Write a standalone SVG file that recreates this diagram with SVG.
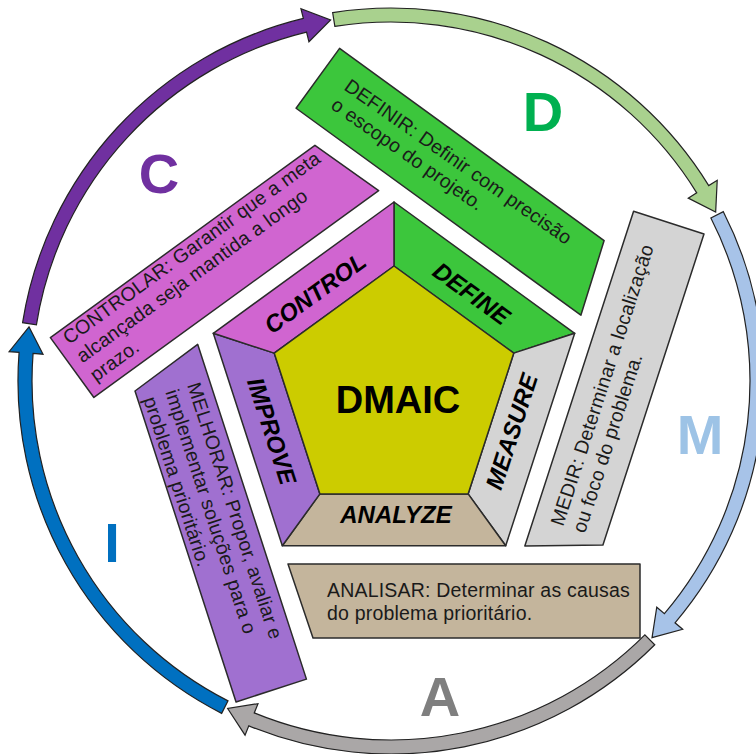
<svg xmlns="http://www.w3.org/2000/svg" xmlns:xlink="http://www.w3.org/1999/xlink" width="756" height="754" viewBox="0 0 756 754">
  <style>
    .seg { stroke:#2b2b2b; stroke-width:1.5; stroke-linejoin:round; }
    .box { stroke:#2b2b2b; stroke-width:1.5; stroke-linejoin:round; }
    .arc { stroke:#222; stroke-width:1.2; stroke-linejoin:miter; }
    .bt { font-family:"Liberation Sans", Arial, sans-serif; font-size:19.5px; fill:#1a1a1a; letter-spacing:0.2px; }
    .lbl { font-family:"Liberation Sans", Arial, sans-serif; font-weight:bold; font-style:italic; font-size:24px; fill:#000; text-anchor:middle; dominant-baseline:central; }
    .big { font-family:"Liberation Sans", Arial, sans-serif; font-weight:bold; font-size:56px; text-anchor:middle; }
    .center { font-family:"Liberation Sans", Arial, sans-serif; font-weight:bold; font-size:38px; text-anchor:middle; fill:#000; }
  </style>
  <defs>
    <path id="arrow" d="M 0,-373 A 373 373 0 0 1 344.4,-143.3 L 353.6,-147.2 L 347.1,-116.1 L 322.2,-134.1 L 331.4,-138 A 359 359 0 0 0 0,-359 Z"/>
    <polygon id="boxshape" points="-106,172 246,172 246,246 -81,246"/>
  </defs>
  <rect width="756" height="754" fill="#ffffff"/>

  <g id="connectors">
    <use xlink:href="#arrow" href="#arrow" class="arc" fill="#a9d18e" transform="translate(391,381) rotate(-9)"/>
    <use xlink:href="#arrow" href="#arrow" class="arc" fill="#a7c3e8" transform="translate(391,381) rotate(63)"/>
    <use xlink:href="#arrow" href="#arrow" class="arc" fill="#aaa7a7" transform="translate(391,381) rotate(135)"/>
    <use xlink:href="#arrow" href="#arrow" class="arc" fill="#0070c0" transform="translate(391,381) rotate(207)"/>
    <use xlink:href="#arrow" href="#arrow" class="arc" fill="#7030a0" transform="translate(391,381) rotate(279)"/>
  </g>

  <g id="letter-d"><text class="big" x="543" y="131" fill="#00b050">D</text></g>
  <g id="letter-m"><text class="big" x="700" y="454" fill="#9dc3e6">M</text></g>
  <g id="letter-a"><text class="big" x="440" y="716" fill="#7f7f7f">A</text></g>
  <g id="letter-i"><text class="big" x="112" y="562" fill="#0070c0">I</text></g>
  <g id="letter-c"><text class="big" x="159" y="193" fill="#7030a0">C</text></g>

  <g id="box-definir">
    <use xlink:href="#boxshape" href="#boxshape" class="box" fill="#3cc63c" transform="translate(394,392) rotate(-144)"/>
    <text class="bt" transform="translate(343,89) rotate(35)"><tspan x="0" y="0">DEFINIR: Definir com precisão</tspan><tspan x="0" dy="23">o escopo do projeto.</tspan></text>
  </g>
  <g id="box-medir">
    <use xlink:href="#boxshape" href="#boxshape" class="box" fill="#d4d4d4" transform="translate(394,392) rotate(-72)"/>
    <text class="bt" transform="translate(563,527) rotate(-72)"><tspan x="0" y="0">MEDIR: Determinar a localização</tspan><tspan x="0" dy="23">ou foco do problema.</tspan></text>
  </g>
  <g id="box-analisar">
    <use xlink:href="#boxshape" href="#boxshape" class="box" fill="#c4b59c" transform="translate(394,392)"/>
    <text class="bt"><tspan x="327" y="597">ANALISAR: Determinar as causas</tspan><tspan x="327" dy="23">do problema prioritário.</tspan></text>
  </g>
  <g id="box-melhorar">
    <use xlink:href="#boxshape" href="#boxshape" class="box" fill="#a070d0" transform="translate(394,392) rotate(72)"/>
    <text class="bt" transform="translate(187,385) rotate(72)"><tspan x="0" y="0">MELHORAR: Propor, avaliar e</tspan><tspan x="0" dy="23">implementar soluções para o</tspan><tspan x="0" dy="23">problema prioritário.</tspan></text>
  </g>
  <g id="box-controlar">
    <use xlink:href="#boxshape" href="#boxshape" class="box" fill="#d065d0" transform="translate(394,392) rotate(144)"/>
    <text class="bt" transform="translate(69,345) rotate(-36)"><tspan x="0" y="0">CONTROLAR: Garantir que a meta</tspan><tspan x="0" dy="23">alcançada seja mantida a longo</tspan><tspan x="0" dy="23">prazo.</tspan></text>
  </g>

  <g id="define">
    <polygon class="seg" fill="#3cc63c" points="394,202 574.7,333.3 513.8,353.1 394,266"/>
    <text class="lbl" transform="translate(471.5,293.5) rotate(36)">DEFINE</text>
  </g>
  <g id="measure">
    <polygon class="seg" fill="#d4d4d4" points="574.7,333.3 505.7,545.7 468.1,493.9 513.8,353.1"/>
    <text class="lbl" transform="translate(511.5,431.5) rotate(-72)">MEASURE</text>
  </g>
  <g id="analyze">
    <polygon class="seg" fill="#c4b59c" points="505.7,545.7 282.3,545.7 319.9,493.9 468.1,493.9"/>
    <text class="lbl" transform="translate(396,514)">ANALYZE</text>
  </g>
  <g id="improve">
    <polygon class="seg" fill="#a070d0" points="282.3,545.7 213.3,333.3 274.2,353.1 319.9,493.9"/>
    <text class="lbl" transform="translate(272,431) rotate(72)">IMPROVE</text>
  </g>
  <g id="control">
    <polygon class="seg" fill="#d065d0" points="213.3,333.3 394,202 394,266 274.2,353.1"/>
    <text class="lbl" transform="translate(315,293) rotate(-36)">CONTROL</text>
  </g>
  <g id="dmaic">
    <polygon class="seg" fill="#cccc00" points="394,266 513.8,353.1 468.1,493.9 319.9,493.9 274.2,353.1"/>
    <text class="center" x="398" y="413">DMAIC</text>
  </g>
</svg>
